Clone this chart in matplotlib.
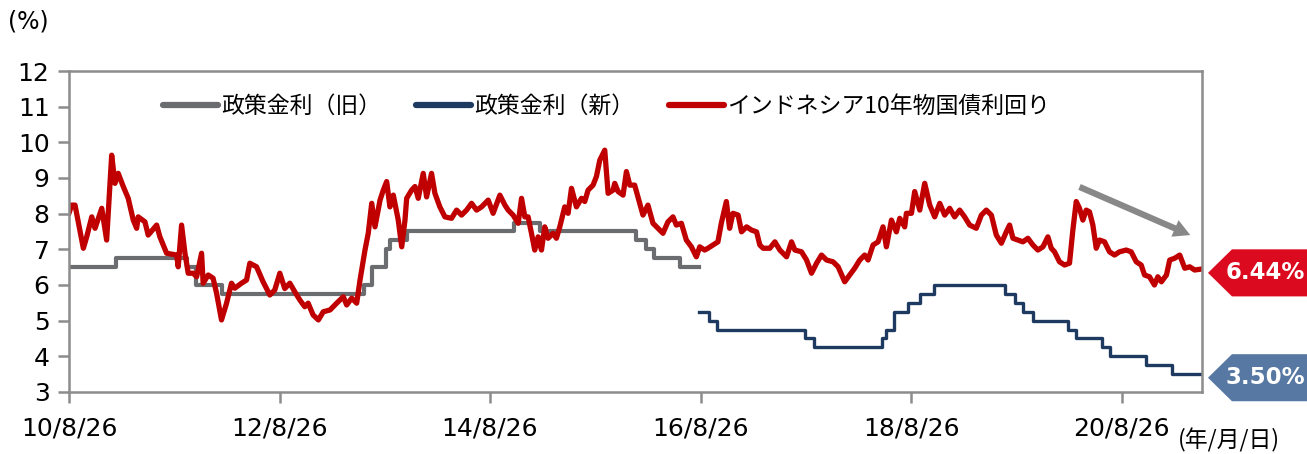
import datetime as dt
import matplotlib
matplotlib.use("Agg")
import matplotlib.pyplot as plt
import matplotlib.transforms as mtrans
from matplotlib.patches import Polygon

# 政策金利（旧）: BI rate
old_dates = ['2010-08-26', '2011-02-04', '2011-10-11', '2011-11-10', '2012-02-09',
             '2013-06-13', '2013-07-11', '2013-08-29', '2013-09-12', '2013-11-12',
             '2014-11-18', '2015-02-17', '2016-01-14', '2016-02-17', '2016-03-17',
             '2016-06-16', '2016-08-19']
old_vals = [6.50, 6.75, 6.50, 6.00, 5.75, 6.00, 6.50, 7.00, 7.25, 7.50,
            7.75, 7.50, 7.25, 7.00, 6.75, 6.50, 6.50]

# 政策金利（新）: 7-day reverse repo
new_dates = ['2016-08-19', '2016-09-22', '2016-10-20', '2017-08-22', '2017-09-22',
             '2018-05-17', '2018-05-30', '2018-06-29', '2018-08-15', '2018-09-27',
             '2018-11-15', '2019-07-18', '2019-08-22', '2019-09-19', '2019-10-24',
             '2020-02-20', '2020-03-19', '2020-06-18', '2020-07-16', '2020-11-19',
             '2021-02-18', '2021-05-31']
new_vals = [5.25, 5.00, 4.75, 4.50, 4.25, 4.50, 4.75, 5.25, 5.50, 5.75,
            6.00, 5.75, 5.50, 5.25, 5.00, 4.75, 4.50, 4.25, 4.00, 3.75,
            3.50, 3.50]

# インドネシア10年物国債利回り (時点は年の小数表記)
bond_t = [2010.649, 2010.675, 2010.706, 2010.785, 2010.817, 2010.865, 2010.896, 2010.960,
          2011.007, 2011.055, 2011.086, 2011.117, 2011.165, 2011.212, 2011.260, 2011.292,
          2011.307, 2011.371, 2011.402, 2011.482, 2011.513, 2011.577, 2011.672, 2011.687,
          2011.719, 2011.751, 2011.782, 2011.829, 2011.862, 2011.909, 2011.924, 2011.972,
          2012.019, 2012.052, 2012.099, 2012.147, 2012.194, 2012.225, 2012.289, 2012.337,
          2012.368, 2012.432, 2012.494, 2012.558, 2012.605, 2012.653, 2012.700, 2012.748,
          2012.795, 2012.843, 2012.890, 2012.922, 2012.969, 2013.017, 2013.064, 2013.128,
          2013.191, 2013.254, 2013.286, 2013.334, 2013.381, 2013.413, 2013.460, 2013.491,
          2013.524, 2013.555, 2013.603, 2013.634, 2013.666, 2013.697, 2013.729, 2013.776,
          2013.809, 2013.840, 2013.856, 2013.903, 2013.935, 2013.966, 2014.014, 2014.046,
          2014.093, 2014.125, 2014.172, 2014.220, 2014.283, 2014.331, 2014.378, 2014.426,
          2014.473, 2014.521, 2014.568, 2014.631, 2014.678, 2014.742, 2014.790, 2014.821,
          2014.868, 2014.916, 2014.948, 2014.979, 2015.011, 2015.043, 2015.074, 2015.106,
          2015.138, 2015.169, 2015.201, 2015.248, 2015.280, 2015.312, 2015.359, 2015.391,
          2015.423, 2015.470, 2015.518, 2015.549, 2015.581, 2015.628, 2015.660, 2015.692,
          2015.739, 2015.771, 2015.818, 2015.834, 2015.866, 2015.913, 2015.945, 2015.977,
          2016.024, 2016.072, 2016.103, 2016.150, 2016.198, 2016.245, 2016.293, 2016.340,
          2016.388, 2016.420, 2016.468, 2016.515, 2016.563, 2016.610, 2016.642, 2016.689,
          2016.720, 2016.768, 2016.815, 2016.847, 2016.895, 2016.926, 2016.958, 2017.005,
          2017.037, 2017.085, 2017.132, 2017.180, 2017.211, 2017.243, 2017.306, 2017.354,
          2017.401, 2017.465, 2017.512, 2017.544, 2017.607, 2017.655, 2017.702, 2017.750,
          2017.797, 2017.845, 2017.907, 2017.955, 2018.018, 2018.066, 2018.113, 2018.161,
          2018.208, 2018.240, 2018.287, 2018.335, 2018.382, 2018.414, 2018.462, 2018.509,
          2018.541, 2018.588, 2018.604, 2018.652, 2018.683, 2018.731, 2018.778, 2018.826,
          2018.873, 2018.921, 2018.968, 2019.016, 2019.063, 2019.111, 2019.158, 2019.206,
          2019.269, 2019.317, 2019.364, 2019.412, 2019.459, 2019.507, 2019.554, 2019.585,
          2019.617, 2019.664, 2019.712, 2019.759, 2019.807, 2019.854, 2019.902, 2019.949,
          2019.981, 2020.013, 2020.060, 2020.108, 2020.155, 2020.187, 2020.219, 2020.250,
          2020.282, 2020.314, 2020.345, 2020.377, 2020.409, 2020.440, 2020.488, 2020.535,
          2020.583, 2020.630, 2020.694, 2020.741, 2020.789, 2020.836, 2020.868, 2020.915,
          2020.962, 2020.994, 2021.026, 2021.074, 2021.105, 2021.152, 2021.200, 2021.248,
          2021.295, 2021.342, 2021.390]
bond_v = [8.02, 8.24, 8.24, 7.03, 7.35, 7.91, 7.59, 8.15,
          7.26, 9.64, 8.85, 9.13, 8.76, 8.43, 7.82, 7.59,
          7.91, 7.77, 7.40, 7.68, 7.35, 6.89, 6.84, 6.51,
          7.68, 6.89, 6.33, 6.33, 6.23, 6.89, 6.05, 6.28,
          6.19, 5.77, 5.02, 5.49, 6.05, 5.91, 6.05, 6.14,
          6.61, 6.51, 6.09, 5.72, 5.86, 6.33, 5.90, 6.05,
          5.81, 5.58, 5.39, 5.49, 5.16, 5.02, 5.25, 5.30,
          5.49, 5.67, 5.44, 5.63, 5.49, 6.14, 6.98, 7.45,
          8.29, 7.63, 8.38, 8.66, 8.90, 8.19, 8.52, 7.82,
          7.07, 7.82, 8.43, 8.66, 8.76, 8.43, 9.13, 8.47,
          9.13, 8.57, 8.19, 7.91, 7.87, 8.10, 7.96, 8.10,
          8.29, 8.10, 8.19, 8.38, 8.01, 8.52, 8.24, 8.10,
          7.96, 7.73, 8.43, 7.91, 7.91, 7.45, 6.98, 7.35,
          6.98, 7.63, 7.31, 7.45, 7.31, 7.63, 8.19, 8.01,
          8.71, 8.19, 8.43, 8.34, 8.66, 8.80, 9.04, 9.50,
          9.78, 8.57, 8.66, 8.85, 8.62, 8.52, 9.18, 8.80,
          8.80, 8.29, 7.96, 8.24, 7.73, 7.59, 7.45, 7.77,
          7.91, 7.68, 7.73, 7.26, 7.07, 6.79, 7.07, 6.98,
          7.03, 7.12, 7.21, 7.73, 8.34, 7.59, 8.01, 7.96,
          7.49, 7.63, 7.54, 7.49, 7.12, 7.03, 7.03, 7.21,
          6.98, 6.79, 7.21, 6.98, 6.93, 6.70, 6.33, 6.61,
          6.84, 6.70, 6.65, 6.51, 6.09, 6.28, 6.47, 6.70,
          6.84, 6.70, 7.12, 7.21, 7.63, 7.07, 7.82, 7.49,
          7.87, 7.63, 8.01, 8.01, 8.62, 8.10, 8.85, 8.24,
          7.91, 8.29, 7.96, 8.15, 7.91, 8.10, 7.91, 7.68,
          7.59, 7.96, 8.10, 7.96, 7.40, 7.17, 7.49, 7.68,
          7.31, 7.26, 7.21, 7.31, 7.12, 6.98, 7.07, 7.35,
          7.03, 6.93, 6.65, 6.56, 6.61, 7.54, 8.34, 8.15,
          7.82, 8.10, 8.05, 7.68, 7.03, 7.26, 7.21, 6.93,
          6.84, 6.93, 6.98, 6.93, 6.65, 6.56, 6.28, 6.23,
          6.00, 6.23, 6.09, 6.28, 6.70, 6.75, 6.84, 6.47,
          6.51, 6.42, 6.44]

tick_dates = ['2010-08-26', '2012-08-26', '2014-08-26', '2016-08-26', '2018-08-26', '2020-08-26']
tick_labels = ['10/8/26', '12/8/26', '14/8/26', '16/8/26', '18/8/26', '20/8/26']
legend_labels = ['政策金利（旧）', '政策金利（新）', 'インドネシア10年物国債利回り']
last_bond = '6.44%'
last_policy = '3.50%'

GRAY = '#6b6c70'
NAVY = '#1f3a60'
RED = '#c00000'
SPINE = '#8c8c8c'
CJK = ['Noto Sans CJK JP', 'DejaVu Sans']


def to_date(s):
    return dt.datetime.strptime(s, '%Y-%m-%d')


def frac_year(t):
    y = int(t)
    return dt.datetime(y, 1, 1) + dt.timedelta(days=(t - y) * 365.25)


fig = plt.figure(figsize=(13.07, 4.54), dpi=100)
ax = fig.add_axes([0.0528, 0.1366, 0.867, 0.707])

ax.plot([to_date(d) for d in old_dates], old_vals, drawstyle='steps-post',
        color=GRAY, lw=3.0, label=legend_labels[0])
ax.plot([to_date(d) for d in new_dates], new_vals, drawstyle='steps-post',
        color=NAVY, lw=2.4, label=legend_labels[1])
ax.plot([frac_year(t) for t in bond_t], bond_v, color=RED, lw=3.8,
        solid_joinstyle='round', label=legend_labels[2])

ax.set_ylim(3, 12)
ax.set_yticks(range(3, 13))
ax.set_xlim(to_date('2010-08-26'), to_date('2021-06-01'))
ax.set_xticks([to_date(d) for d in tick_dates])
ax.set_xticklabels(tick_labels)

for sp in ax.spines.values():
    sp.set_color(SPINE)
    sp.set_linewidth(1.8)
ax.tick_params(axis='both', colors=SPINE, width=1.8, length=8, labelsize=18,
               labelcolor='black')
ax.tick_params(axis='x', pad=10)
ax.tick_params(axis='y', pad=6)

leg = ax.legend(loc='upper left', bbox_to_anchor=(0.075, 0.955), ncol=3, frameon=False,
                prop={'family': CJK, 'size': 16.5}, handlelength=2.4, handletextpad=0.15,
                columnspacing=1.5, borderaxespad=0)
for h in leg.get_lines():
    h.set_linewidth(4.5)
    h.set_solid_capstyle('round')

# 下落トレンドの矢印
ax.annotate('', xy=(frac_year(2021.30), 7.40), xytext=(frac_year(2020.25), 8.75),
            arrowprops=dict(arrowstyle='simple,head_length=1.2,head_width=1.3,tail_width=0.45',
                            color='#888888', lw=0, shrinkA=0, shrinkB=0))

# 右端の値ラベル
tr = mtrans.blended_transform_factory(fig.transFigure, ax.transData)
x0, xm, x1 = 1208 / 1307, 1232 / 1307, 1.0
for val, txt, col in [(bond_v[-1], last_bond, '#db0a1e'), (new_vals[-1], last_policy, '#5878a4')]:
    yc = val - 0.1
    h = 0.66
    poly = Polygon([(x0, yc), (xm, yc + h), (x1, yc + h), (x1, yc - h), (xm, yc - h)],
                   closed=True, transform=tr, facecolor=col, edgecolor='none', clip_on=False)
    fig.add_artist(poly)
    fig.text(1265 / 1307, yc, txt, transform=tr, ha='center', va='center',
             color='white', fontsize=16.5, fontweight='bold')

fig.text(8 / 1307, 1 - 22 / 454, '(%)', fontsize=17, va='center', ha='left')
fig.text(1178 / 1307, 1 - 440 / 454, '(年/月/日)', fontsize=16.5, va='center', ha='left',
         family=CJK)

fig.savefig('out.png', dpi=100)
